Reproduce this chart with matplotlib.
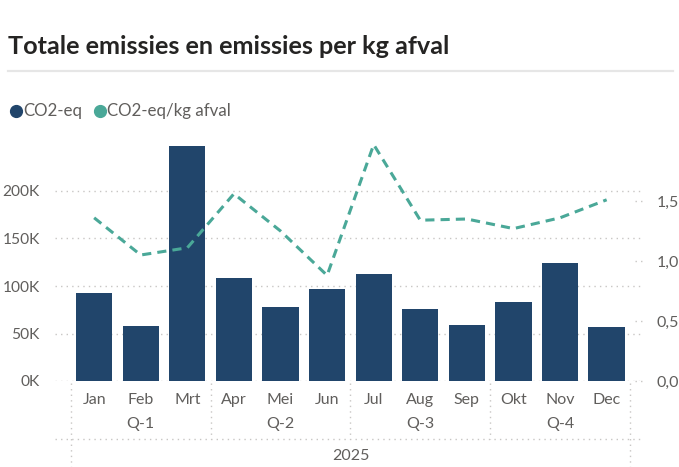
import matplotlib
matplotlib.use("Agg")
import matplotlib.pyplot as plt
import matplotlib.transforms as mtransforms
from matplotlib.lines import Line2D
from matplotlib.ticker import FuncFormatter

months = ["Jan", "Feb", "Mrt", "Apr", "Mei", "Jun",
          "Jul", "Aug", "Sep", "Okt", "Nov", "Dec"]
quarters = ["Q-1", "Q-2", "Q-3", "Q-4"]
year = "2025"
co2_eq = [92600, 58000, 247700, 108000, 78000, 96500,
          112600, 75800, 59000, 83500, 124000, 56500]
co2_per_kg = [1.36, 1.05, 1.11, 1.56, 1.25, 0.88,
              1.97, 1.34, 1.35, 1.27, 1.36, 1.51]

BAR = "#21456B"
LINE = "#4AA898"
TXT = "#605E5C"
GRID = "#C8C6C4"

plt.rcParams["font.family"] = ["Lato", "DejaVu Sans"]

W, H = 679, 467
fig = plt.figure(figsize=(W / 100, H / 100), dpi=100)


def fx(px):
    return px / W


def fy(py):
    return 1 - py / H


ax = fig.add_axes([fx(55), fy(381), fx(643) - fx(55), fy(134) - fy(381)])
ax2 = ax.twinx()

x = list(range(len(months)))
ax.bar(x, co2_eq, width=0.78, color=BAR, zorder=2)
ax2.plot(x, co2_per_kg, color=LINE, lw=2.2, dashes=(3, 2), zorder=3)

ax.set_xlim(-0.84, 11.78)
ax.set_ylim(0, 260000)
ax2.set_ylim(0, 247 / 120)

ax.set_yticks([0, 50000, 100000, 150000, 200000])
ax.yaxis.set_major_formatter(FuncFormatter(lambda v, p: f"{int(v / 1000)}K"))
ax.tick_params(axis="y", length=0, pad=11, labelsize=11.2, labelcolor=TXT)
ax.set_xticks([])
ax.grid(axis="y", color=GRID, lw=1, ls=(0, (1, 3)), zorder=0)

ax2.set_yticks([0, 0.5, 1.0, 1.5])
ax2.yaxis.set_major_formatter(FuncFormatter(lambda v, p: f"{v:.1f}".replace(".", ",")))
ax2.tick_params(axis="y", length=0, pad=10, labelsize=11.5, labelcolor=TXT)
stub = mtransforms.blended_transform_factory(ax2.transAxes, ax2.transData)
for v in [0, 0.5, 1.0, 1.5]:
    ax2.plot([0.987, 1.0], [v, v], transform=stub, color=GRID, lw=1,
             ls=(0, (1, 3)), clip_on=False)

for a in (ax, ax2):
    for s in a.spines.values():
        s.set_visible(False)

# category axis: months, quarters, year
tr = mtransforms.blended_transform_factory(ax.transData, fig.transFigure)
for i, m in enumerate(months):
    ax.text(i, fy(400), m, transform=tr, ha="center", va="center",
            fontsize=11.5, color=TXT)
for q, qi in enumerate(quarters):
    ax.text(3 * q + 1, fy(424), qi, transform=tr, ha="center", va="center",
            fontsize=11.5, color=TXT)
ax.text(5.5, fy(456), year, transform=tr, ha="center", va="center",
        fontsize=11.5, color=TXT)

sep_kw = dict(transform=tr, color=GRID, lw=1, ls=(0, (1, 3)), clip_on=False)
for b in [2.5, 5.5, 8.5]:
    ax.plot([b, b], [fy(383), fy(439)], **sep_kw)
for b in [-0.5, 11.5]:
    ax.plot([b, b], [fy(383), fy(467)], **sep_kw)
ax.plot([-0.84, 11.78], [fy(439), fy(439)], **sep_kw)

# title, rule and legend
fig.text(fx(8), fy(46), "Totale emissies en emissies per kg afval",
         fontsize=18.2, fontweight="bold", color="#252423", va="center")
fig.add_artist(Line2D([fx(8), fx(673)], [fy(71), fy(71)], color="#E6E6E6", lw=1.6))

fig.add_artist(Line2D([fx(16)], [fy(111)], marker="o", ms=8.5, color=BAR, lw=0))
fig.text(fx(23), fy(111), "CO2-eq", fontsize=12.2, color=TXT, va="center")
fig.add_artist(Line2D([fx(100)], [fy(111)], marker="o", ms=8.5, color=LINE, lw=0))
fig.text(fx(107), fy(111), "CO2-eq/kg afval", fontsize=12.2, color=TXT, va="center")

fig.savefig("out.png", dpi=100)
